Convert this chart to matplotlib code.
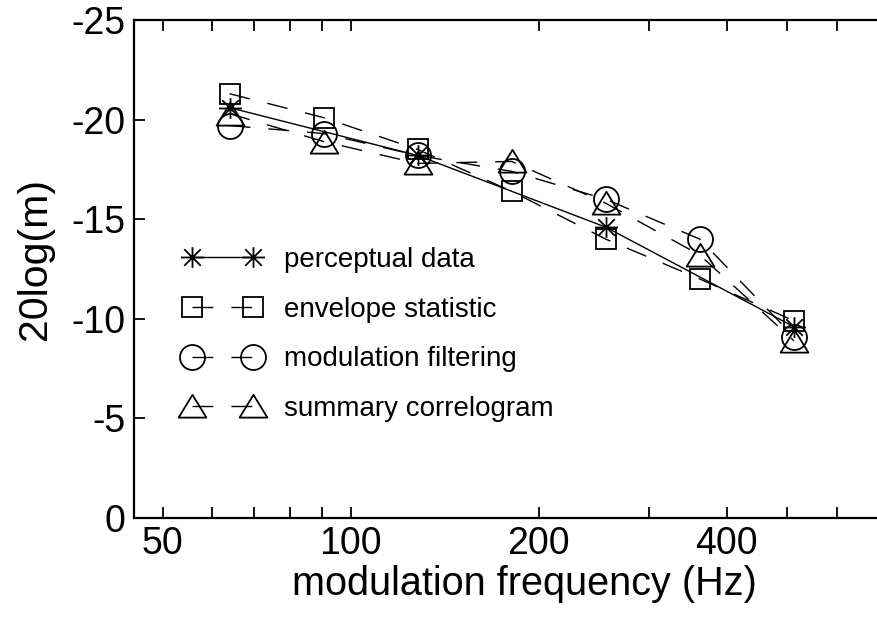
import numpy as np
import matplotlib
matplotlib.use("Agg")
import matplotlib.pyplot as plt
from matplotlib.path import Path

plt.rcParams['font.family'] = ['Liberation Sans', 'DejaVu Sans']
plt.rcParams['axes.unicode_minus'] = False

# ---- data ----
freq = [64, 90.5, 128, 181, 256, 362, 512]
freq_perc = [64, 128, 256, 512]
perceptual = [-20.6, -18.2, -14.6, -9.6]
envelope = [-21.3, -20.1, -18.5, -16.4, -14.0, -12.0, -9.9]
modfilt = [-19.7, -19.3, -18.2, -17.4, -16.0, -14.0, -9.1]
summary = [-20.3, -18.9, -17.8, -17.9, -15.8, -13.2, -8.9]

labels = ['perceptual data', 'envelope statistic', 'modulation filtering', 'summary correlogram']
xticks_major = [50, 100, 200, 400]
xticks_all = [50, 60, 70, 80, 90, 100, 200, 300, 400, 500, 600]
yticks = [0, -5, -10, -15, -20, -25]

# ---- custom markers ----
d = 0.72
star_verts = [(-1, 0), (1, 0), (0, -0.9), (0, 0.9), (-d, -d), (d, d), (-d, d), (d, -d)]
star_codes = [Path.MOVETO, Path.LINETO] * 4
star = Path(star_verts, star_codes)
tri = Path([(-1, -0.8), (1, -0.8), (0, 0.84), (-1, -0.8)],
           [Path.MOVETO, Path.LINETO, Path.LINETO, Path.CLOSEPOLY])

W, H = 878, 618
fig = plt.figure(figsize=(W / 100, H / 100), dpi=100)
x0, x1, yt, yb = 134, 915, 20, 518
ax = fig.add_axes([x0 / W, 1 - yb / H, (x1 - x0) / W, (yb - yt) / H])

dash = (0, (15, 13))
common = dict(color='black', lw=1.0, mfc='none', mec='black', mew=1.3)
ax.plot(freq_perc, perceptual, ls='-', marker=star, ms=16.5, label=labels[0], **common)
ax.plot(freq, envelope, ls=dash, marker='s', ms=14.2, label=labels[1], **common)
ax.plot(freq, modfilt, ls=dash, marker='o', ms=18, label=labels[2], **common)
ax.plot(freq, summary, ls=dash, marker=tri, ms=20, label=labels[3], **common)

ax.set_xscale('log')
ax.set_xlim(45, 800)
ax.set_ylim(0, -25)
ax.xaxis.set_minor_locator(matplotlib.ticker.NullLocator())
ax.set_xticks(xticks_all)
ax.set_xticklabels([str(v) if v in xticks_major else '' for v in xticks_all])
ax.set_yticks(yticks)
ax.set_yticklabels([str(v) for v in yticks])

ax.tick_params(axis='both', which='both', direction='in', length=8, width=1.3,
               labelsize=27, top=True, right=True)
ax.tick_params(axis='x', pad=6)
ax.tick_params(axis='y', pad=6)
for s in ax.spines.values():
    s.set_linewidth(1.6)

ax.set_xlabel('modulation frequency (Hz)', fontsize=28.5, labelpad=2)
ax.set_ylabel('20log(m)', fontsize=29.5)
ax.yaxis.set_label_coords(-0.103, 0.52)

leg = ax.legend(loc='upper left', bbox_to_anchor=(184 / W, 1 - 247 / H),
                bbox_transform=fig.transFigure, frameon=False, fontsize=20,
                numpoints=2, handlelength=2.8, handletextpad=0.8,
                labelspacing=0.85, borderpad=0, borderaxespad=0)

fig.savefig('out.png', dpi=100)
